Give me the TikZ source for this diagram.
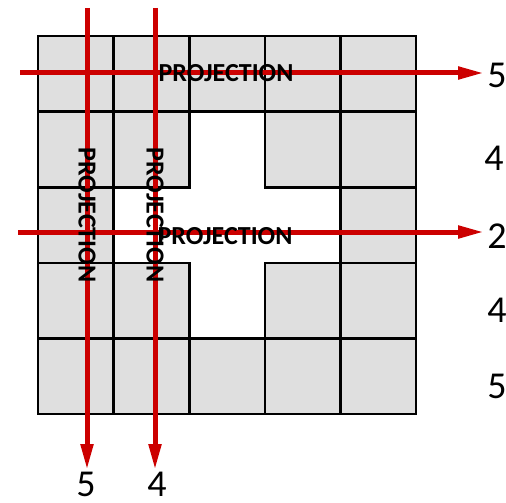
\documentclass[tikz,border=0pt]{standalone}
\usepackage{fontspec}
\setmainfont{Carlito}
\usetikzlibrary{arrows.meta}
\definecolor{cellgray}{HTML}{DFDFDF}
\definecolor{projred}{HTML}{CC0000}
\begin{document}
\begin{tikzpicture}[x=1pt,y=-1pt,
  cell/.style={fill=cellgray,draw=black,line width=2.6pt},
  proj/.style={draw=projred,line width=5pt,-{Triangle[length=26pt,width=12pt]}},
  ptext/.style={font=\bfseries\fontsize{26}{26}\selectfont,inner sep=0pt},
  num/.style={font=\fontsize{38}{38}\selectfont,inner sep=0pt}]
\useasboundingbox (0,0) rectangle (506,503);
% gray cells (column/row)
\foreach \c/\r in {0/0,1/0,2/0,3/0,4/0,
                   0/1,1/1,3/1,4/1,
                   0/2,4/2,
                   0/3,1/3,3/3,4/3,
                   0/4,1/4,2/4,3/4,4/4}{
  \path[cell] ({38+75.6*\c},{36+75.6*\r}) rectangle ++(75.6,75.6);
}
% arrow ends
\coordinate (h1s) at (20,73);   \coordinate (h1e) at (484,73);
\coordinate (h2s) at (18,232);  \coordinate (h2e) at (484,232);
\coordinate (v1s) at (87,8);    \coordinate (v1e) at (87,470);
\coordinate (v2s) at (155,8);   \coordinate (v2e) at (155,470);
\draw[proj] (v1s) -- (v1e);
\draw[proj] (v2s) -- (v2e);
\draw[proj] (h1s) -- (h1e);
\draw[proj] (h2s) -- (h2e);
% projection labels
\node[ptext] (p1) at (226,73) {PROJECTION};
\node[ptext] (p2) at (225,236) {PROJECTION};
\node[ptext,rotate=-90] (p3) at (87,215) {PROJECTION};
\node[ptext,rotate=-90] (p4) at (155,215) {PROJECTION};
% counts
\node[num] (r1) at (497,75) {5};
\node[num] (r2) at (494,158) {4};
\node[num] (r3) at (497,236) {2};
\node[num] (r4) at (497,310) {4};
\node[num] (r5) at (497,386) {5};
\node[num] (b1) at (86,484) {5};
\node[num] (b2) at (157,484) {4};
\end{tikzpicture}
\end{document}
